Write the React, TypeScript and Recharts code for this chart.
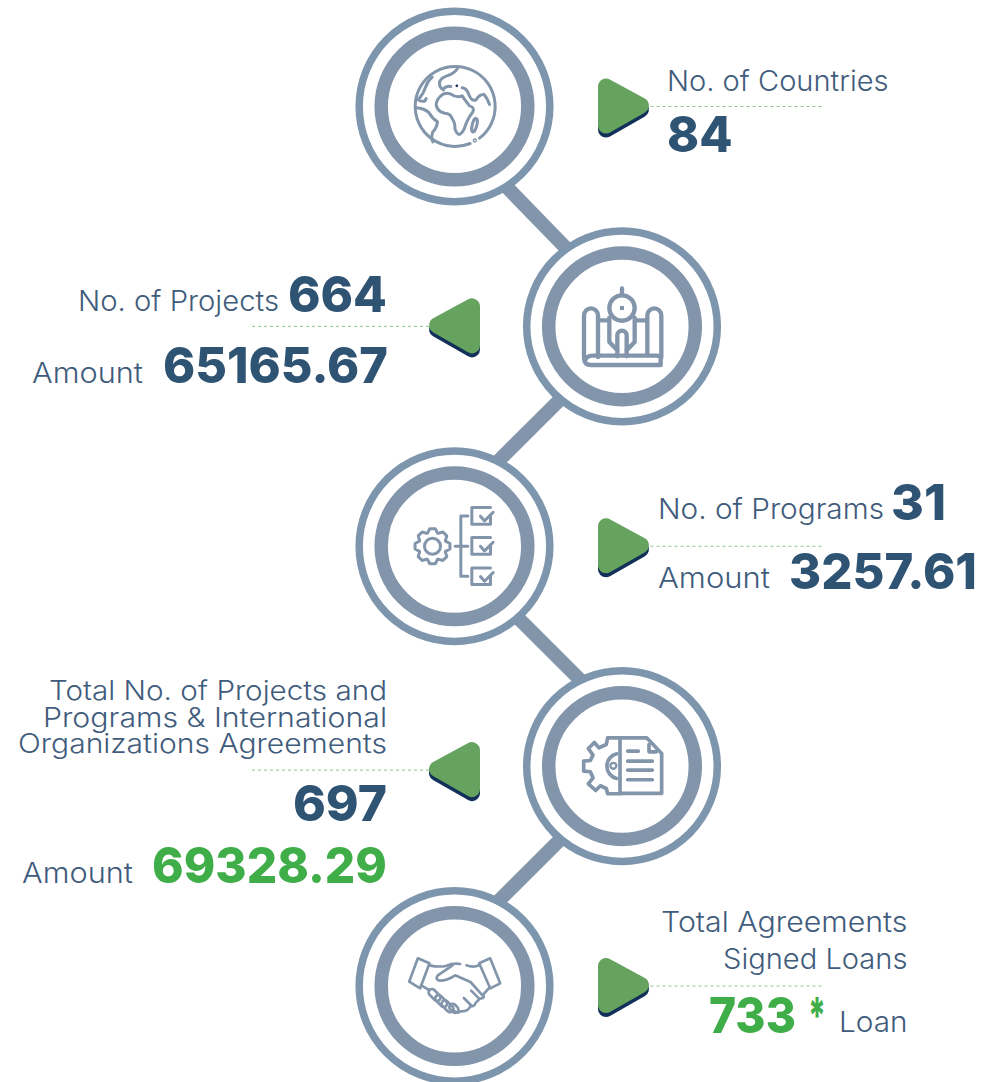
import React from "react";
import { ComposedChart, Line, XAxis, YAxis } from "recharts";

// stops along the zigzag: column 0 / 1, row 0..4
const stopCols = [0, 1, 0, 1, 0];
const stopRows = [0, 1, 2, 3, 4];
const counts = ["84", "664", "31", "697", "733"];
const amounts = [null, "65165.67", "3257.61", "69328.29", null];
const countLabels = [
  ["No. of Countries"],
  ["No. of Projects"],
  ["No. of Programs"],
  ["Total No. of Projects and", "Programs & International", "Organizations Agreements"],
  ["Total Agreements", "Signed Loans"],
];
const amountLabel = "Amount";
const loanLabel = "Loan";

// connector ends, in the same col/row units
const connectorCols = [[0.24, 0.75], [0.72, 0.21], [0.3, 0.84], [0.72, 0.21]];
const connectorRows = [[0.31, 0.71], [1.265, 1.652], [2.266, 2.676], [3.267, 3.654]];

const stops = stopCols.map((col, i) => ({ col, row: stopRows[i] }));
const connectors = connectorCols.map((cols, i) =>
  cols.map((col, j) => ({ col, row: connectorRows[i][j] }))
);

const RING = "#8295ab";
const RING_OUTER = "#7d96ae";
const TEXT = "#3f5c7c";
const NUMBER = "#2f5373";
const GREEN = "#3fae49";
const FONT = "Inter, 'Open Sans', sans-serif";

function Label({ text, x0, x1, y, size = 28 }: any) {
  return (
    <text x={x0} y={y} textLength={x1 - x0} lengthAdjust="spacingAndGlyphs" fontFamily={FONT} fontSize={size} fontWeight={300} fill={TEXT}>
      {text}
    </text>
  );
}

function Num({ text, x0, x1, y, fill = NUMBER }: any) {
  return (
    <text x={x0} y={y} textLength={x1 - x0} lengthAdjust="spacingAndGlyphs" fontFamily={FONT} fontSize={50} fontWeight={800} fill={fill}>
      {text}
    </text>
  );
}

function gearPath(cx: number, cy: number, outer: number, inner: number, teeth: number) {
  const pts: string[] = [];
  for (let i = 0; i < teeth; i++) {
    const a = (i / teeth) * Math.PI * 2;
    const w = Math.PI / teeth;
    [[-w * 0.95, inner], [-w * 0.4, outer], [w * 0.4, outer], [w * 0.95, inner]].forEach(([d, r]) => {
      pts.push(`${(cx + r * Math.sin(a + d)).toFixed(1)} ${(cy - r * Math.cos(a + d)).toFixed(1)}`);
    });
  }
  return `M${pts.join("L")}Z`;
}

const iconStroke = {
  fill: "none",
  stroke: RING,
  strokeWidth: 10,
  strokeLinecap: "round" as const,
  strokeLinejoin: "round" as const,
};

// icons are traced in 3x crop coordinates, anchored on their crop centre
function GlobeIcon() {
  return (
    <g transform="scale(0.3333) translate(-313,-320)" {...iconStroke} strokeWidth={9}>
      <path d="M360 431 A120 120 0 1 1 388 415" />
      <path d="M322 206 Q312 222 290 228 Q268 236 268 250 Q268 264 280 270 M278 268 Q290 256 302 260" />
      <path d="M246 232 Q232 244 226 262 Q220 282 204 300 Q212 306 224 304 L228 296" />
      <path d="M300 282 Q282 276 270 290 Q258 302 258 316 Q262 336 284 340 Q300 340 306 356 Q316 372 314 386 Q320 404 328 404 Q340 398 346 376 Q352 358 368 336 Q374 322 358 318 Q344 300 336 288 Q320 296 300 282Z" />
      <path d="M336 264 Q350 266 356 284 Q364 306 378 300 Q388 282 402 284 Q412 296 418 314" />
      <path d="M198 324 Q222 326 236 338 Q246 356 262 366 Q260 384 248 396 Q242 412 248 426" />
      <ellipse cx={373} cy={376} rx={7} ry={21} transform="rotate(14 373 376)" />
      <circle cx={374} cy={422} r={2} />
      <circle cx={320} cy={258} r={4} fill="#12305a" stroke="none" />
    </g>
  );
}

function PlanIcon() {
  return (
    <g transform="scale(0.3333) translate(-186,-198)" {...iconStroke} strokeWidth={13}>
      <path d="M114 290 V165 A21 21 0 0 0 72 165 V292 Q72 314 94 314 H302 V292 Q300 286 288 286 H96 Q78 288 76 300" />
      <path d="M262 284 V165 A21 21 0 0 1 304 165 V292" />
      <path d="M114 180 H150 M226 180 H262" strokeLinecap="butt" />
      <circle cx={186} cy={143} r={38} />
      <rect x={180} y={137} width={12} height={12} fill={RING} stroke="none" />
      <path d="M186 84 V104" />
      <path d="M148 172 V245 L172 270 V288 M224 172 V245 L200 270 V288" />
      <path d="M172 270 V225 A14 14 0 0 1 200 225 V270" />
    </g>
  );
}

function ChecklistIcon() {
  const boxes = [52, 142, 233];
  return (
    <g transform="scale(0.3333) translate(-178,-168)" {...iconStroke} strokeWidth={9}>
      <path d={gearPath(112, 168, 53, 42, 8)} />
      <circle cx={112} cy={168} r={24} />
      <path d="M218 77 H197 V258 H218 M180 168 H218" />
      {boxes.map((y) => (
        <g key={y}>
          <path d={`M286 ${y + 22} V${y + 50} H230 V${y} H286`} />
          <path d={`M256 ${y + 26} L268 ${y + 40} L294 ${y + 14}`} />
        </g>
      ))}
    </g>
  );
}

function ContractIcon() {
  return (
    <g transform="scale(0.3333) translate(-171,-153)" {...iconStroke} strokeWidth={11}>
      <path d="M165 68 H245 L290 115 V235 H165 Z" />
      <path d="M252 88 V110 H274" />
      <path d="M188 108 H220 M188 138 H262 M188 165 H262 M188 194 H262" />
      <path d="M165 68 H128 L124 88 L102 98 L88 82 L70 100 L84 120 L76 136 L56 138 V168 L76 170 L84 188 L70 206 L92 226 L106 212 L124 220 L128 236 H165" />
      <path d="M155 116 A38 38 0 0 0 155 190" />
      <circle cx={145} cy={152} r={9} strokeWidth={7} />
    </g>
  );
}

function HandshakeIcon() {
  const fingers = [[118, 165], [138, 183], [157, 199]];
  return (
    <g transform="scale(0.3333) translate(-178,-138)" {...iconStroke} strokeWidth={8}>
      <path d="M68 55 L103 70 L75 145 L42 125 Z" />
      <path d="M252 70 L285 55 L315 130 L285 145 Z" />
      <path d="M103 76 Q130 82 152 78 Q175 68 195 72 M214 76 Q234 84 252 76" />
      <path d="M172 76 L128 106 Q118 118 134 122 Q156 122 180 106 L226 126 L262 166" />
      <path d="M280 146 L264 164 Q270 176 254 176 L240 190 Q240 200 226 198 Q218 216 196 214 Q186 222 176 212" />
      <path d="M230 198 L206 174 M252 176 L228 152" />
      <path d="M78 136 L102 150" />
      {fingers.map(([x, y]) => (
        <rect key={x} x={x - 10} y={y - 21} width={20} height={42} rx={10} transform={`rotate(-45 ${x} ${y})`} />
      ))}
      <rect x={166} y={190} width={20} height={30} rx={10} transform="rotate(-45 176 205)" />
    </g>
  );
}

const icons = [GlobeIcon, PlanIcon, ChecklistIcon, ContractIcon, HandshakeIcon];

function Marker({ col }: { col: number }) {
  // col 0 points right, col 1 points left
  const pts = col === 0 ? "151.5,-20 151.5,19 186.5,-1" : "-150,-20 -150,19 -185,-1";
  return (
    <g strokeLinejoin="round" strokeWidth={16}>
      <polygon points={pts} fill="#12305a" stroke="#12305a" transform="translate(0,4)" />
      <polygon points={pts} fill="#66a35f" stroke="#66a35f" />
    </g>
  );
}

function StopText({ i }: { i: number }) {
  const l = countLabels[i];
  if (i === 0)
    return (
      <>
        <Label text={l[0]} x0={212.5} x1={434} y={-16} />
        <Num text={counts[i]} x0={212.5} x1={278} y={45} />
      </>
    );
  if (i === 1)
    return (
      <>
        <Label text={l[0]} x0={-544} x1={-343} y={-15} />
        <Num text={counts[i]} x0={-334} x1={-235} y={-14} />
        <Label text={amountLabel} x0={-590} x1={-479} y={57} />
        <Num text={amounts[i]} x0={-459} x1={-234} y={57} />
      </>
    );
  if (i === 2)
    return (
      <>
        <Label text={l[0]} x0={203.5} x1={429.5} y={-27} />
        <Num text={counts[i]} x0={436.5} x1={491.5} y={-26} />
        <Label text={amountLabel} x0={203.5} x1={315.5} y={42} />
        <Num text={amounts[i]} x0={334.5} x1={522.5} y={43} />
      </>
    );
  if (i === 3)
    return (
      <>
        <Label text={l[0]} x0={-573} x1={-235} y={-66} size={27} />
        <Label text={l[1]} x0={-579} x1={-235} y={-39} size={27} />
        <Label text={l[2]} x0={-604} x1={-235} y={-13} size={27} />
        <Num text={counts[i]} x0={-329} x1={-235} y={55} />
        <Label text={amountLabel} x0={-600} x1={-489} y={117} />
        <Num text={amounts[i]} x0={-470} x1={-235} y={117} fill={GREEN} />
      </>
    );
  return (
    <>
      <Label text={l[0]} x0={206.5} x1={453} y={-54} />
      <Label text={l[1]} x0={268.5} x1={453} y={-17} />
      <Num text={counts[i]} x0={254.5} x1={341.5} y={47} fill={GREEN} />
      <Num text="*" x0={353.5} x1={371.5} y={47} fill={GREEN} />
      <Label text={loanLabel} x0={384.5} x1={453} y={46} />
    </>
  );
}

function Stop({ cx, cy, index, payload }: any) {
  const Icon = icons[index];
  const lead = payload.col === 0 ? "M196 0 H368" : "M-193 0 H-372";
  return (
    <g key={index} transform={`translate(${cx},${cy})`}>
      <circle r={95.3} fill="#fff" stroke={RING_OUTER} strokeWidth={7.5} />
      <circle r={73.3} fill="#fff" stroke={RING} strokeWidth={13.5} />
      <Icon />
      <g transform={index === 3 ? "translate(0,4)" : undefined}>
        <path d={lead} stroke="#8fc58a" strokeWidth={1} strokeDasharray="3 3" fill="none" />
        <Marker col={payload.col} />
      </g>
      <StopText i={index} />
    </g>
  );
}

export default function App() {
  return (
    <div style={{ position: "absolute", left: 0, top: 0, width: 994, height: 1082, overflow: "hidden", background: "#fff" }}>
      <ComposedChart
        width={994}
        height={1082}
        data={stops}
        margin={{ top: 106.5, right: 372, bottom: 96, left: 454.5 }}
      >
        <XAxis dataKey="col" type="number" domain={[0, 1]} hide />
        <YAxis type="number" domain={[0, 4]} reversed hide />
        {connectors.map((seg, i) => (
          <Line
            key={i}
            data={seg}
            dataKey="row"
            stroke={RING}
            strokeWidth={14}
            dot={false}
            activeDot={false}
            legendType="none"
            isAnimationActive={false}
          />
        ))}
        <Line
          dataKey="row"
          stroke="none"
          dot={(props: any) => <Stop key={props.index} {...props} />}
          activeDot={false}
          isAnimationActive={false}
        />
      </ComposedChart>
    </div>
  );
}
